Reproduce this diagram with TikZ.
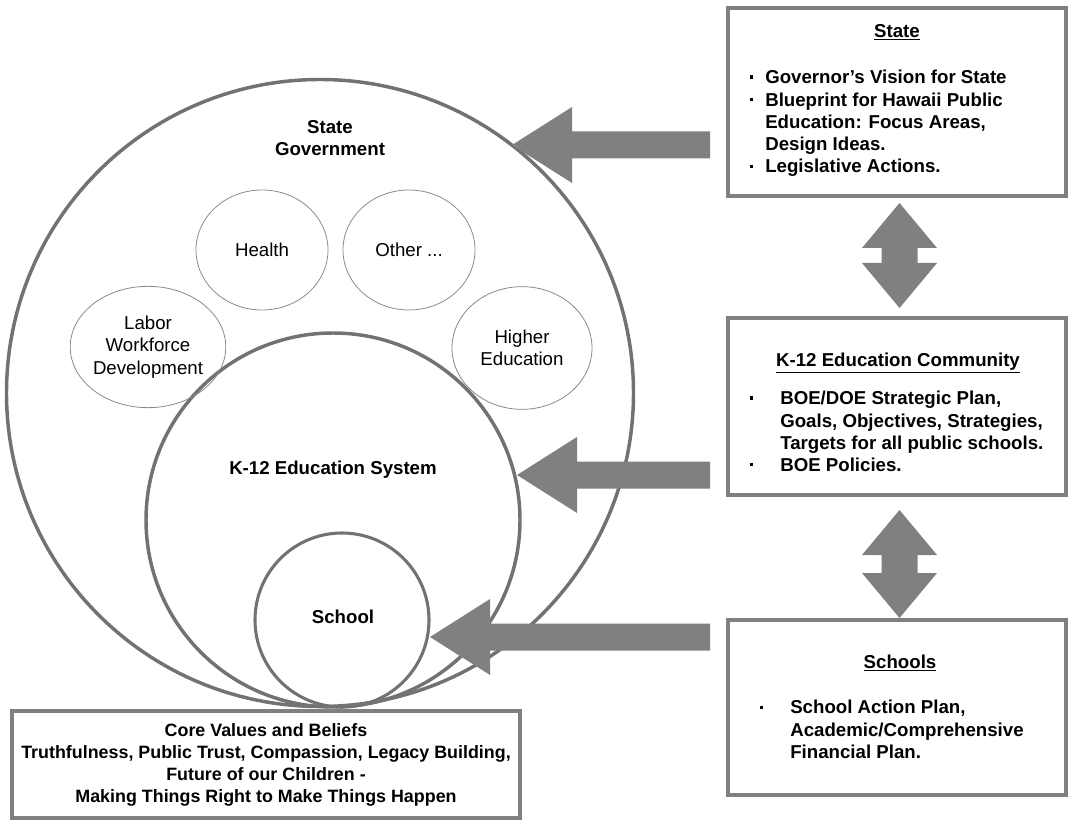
\documentclass[tikz,border=0pt]{standalone}
\usepackage{fontspec}
\setmainfont{Liberation Sans}
\usepackage{xcolor}
\usepackage{tikz}
\usetikzlibrary{shapes.geometric}

\definecolor{ringgray}{HTML}{717276}
\definecolor{agencygray}{HTML}{8A8A8A}
\definecolor{boxgray}{HTML}{808080}
\definecolor{blockgray}{HTML}{7F807F}

\newcommand\diagplain{\fontsize{14}{16.7}\selectfont}
\newcommand\diagbold{\fontsize{14}{16.7}\selectfont\bfseries}
\newcommand\corebold{\fontsize{13.4}{16.3}\selectfont\bfseries}
\newcommand\dotitem[1]{\makebox[#1][l]{\rule[0.28em]{2.3pt}{2.3pt}}}

% block arrows, drawn from a named tip
\newcommand\leftblock[2]{\fill[blockgray] (#1) -- ++(60,-38) -- ++(0,24.5) -- ++(#2-60,0) -- ++(0,27) -- ++(-#2+60,0) -- ++(0,24.5) -- cycle;}
\newcommand\updownblock[2]{\fill[blockgray] (#1) -- ++(37.5,45) -- ++(-19.5,0) -- ++(0,#2-90) -- ++(19.5,0) -- ++(-37.5,45) -- ++(-37.5,-45) -- ++(19.5,0) -- ++(0,-#2+90) -- ++(-19.5,0) -- cycle;}

\tikzset{
  ringline/.style={circle, draw=ringgray, line width=2.6pt, inner sep=0pt},
  agency/.style={ellipse, draw=agencygray, line width=0.6pt, inner sep=0pt, align=center, font=\diagplain},
  infobox/.style={rectangle, draw=boxgray, line width=3.2pt, inner sep=0pt},
  ringtext/.style={inner sep=0pt, align=center, font=\diagbold},
  listtext/.style={inner sep=0pt, align=left, anchor=north west, font=\diagbold}
}

\begin{document}
\begin{tikzpicture}[x=0.75pt, y=-0.75pt]
\useasboundingbox (0,0) rectangle (1071,823);

% nested circles
\node[ringline, minimum size=470.25pt] (gov) at (320,393) {};
\node[ringline, minimum size=280.5pt] (k12) at (333,520) {};
\node[ringline, line width=2.3pt, minimum size=130.5pt] (school) at (342,620) {};

\node[ringtext] (govtext) at (330,138) {State\\Government};
\node[ringtext] (k12text) at (333,470) {K-12 Education System};
\node[ringtext] (schooltext) at (343,617) {School};

\node[agency, minimum width=99pt, minimum height=90pt] (health) at (262,250) {Health};
\node[agency, minimum width=99pt, minimum height=90pt] (other) at (409,250) {Other ...};
\node[agency, minimum width=97.5pt, minimum height=91pt] (labor) at (148,347) {Labor\\Workforce\\Development};
\node[agency, minimum width=105pt, minimum height=92pt] (higher) at (522,348) {Higher\\Education};

% boxes
\node[infobox, minimum width=253.5pt, minimum height=141pt] (state) at (897,102) {};
\node[infobox, minimum width=253.5pt, minimum height=132.75pt] (community) at (897,406.5) {};
\node[infobox, minimum width=253.5pt, minimum height=131.25pt] (schools) at (897,707.5) {};
\node[infobox, line width=3pt, minimum width=381pt, minimum height=80.25pt] (core) at (266,764.5) {};

\node[ringtext] (statehead) at (897,32) {\underline{State}};
\node[listtext] (statelist) at (750,70) {\dotitem{11.25pt}Governor’s Vision for State\\
  \dotitem{11.25pt}Blueprint for Hawaii Public\\
  \hspace*{11.25pt}Education: Focus Areas,\\
  \hspace*{11.25pt}Design Ideas.\\
  \dotitem{11.25pt}Legislative Actions.};

\node[ringtext] (communityhead) at (898,363) {\underline{K-12 Education Community}};
\node[listtext] (communitylist) at (750,391) {\dotitem{22.5pt}BOE/DOE Strategic Plan,\\
  \hspace*{22.5pt}Goals, Objectives, Strategies,\\
  \hspace*{22.5pt}Targets for all public schools.\\
  \dotitem{22.5pt}BOE Policies.};

\node[ringtext] (schoolshead) at (900,663) {\underline{Schools}};
\node[listtext] (schoolslist) at (760,700) {\dotitem{22.5pt}School Action Plan,\\
  \hspace*{22.5pt}Academic/Comprehensive\\
  \hspace*{22.5pt}Financial Plan.};

\node[ringtext, font=\corebold] (coretext) at (266,765) {Core Values and Beliefs\\
  Truthfulness, Public Trust, Compassion, Legacy Building,\\
  Future of our Children -\\
  Making Things Right to Make Things Happen};

% arrows
\coordinate (govtip) at (512,145);
\coordinate (k12tip) at (517,475);
\coordinate (schooltip) at (430,637);
\coordinate (upper) at (899.5,203);
\coordinate (lower) at (899.5,510);
\leftblock{govtip}{198}
\leftblock{k12tip}{193}
\leftblock{schooltip}{280}
\updownblock{upper}{105}
\updownblock{lower}{108}
\end{tikzpicture}
\end{document}
